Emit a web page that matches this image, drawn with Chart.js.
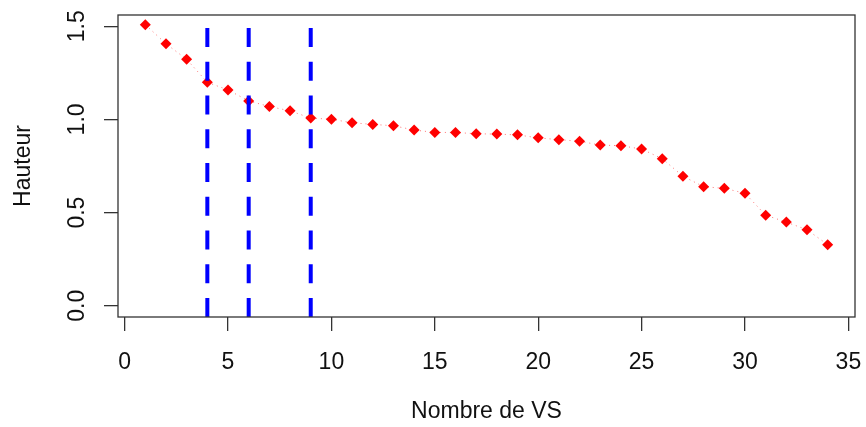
<!DOCTYPE html>
<html lang="fr">
<head>
    <meta charset="UTF-8">
    <title>Hauteur / Nombre de VS</title>
    <script src="https://cdn.jsdelivr.net/npm/chart.js@4.4.1/dist/chart.umd.min.js"></script>
    <style>
        body { margin: 0; background: #fff; }
        #box { width: 866px; height: 427px; }
    </style>
</head>
<body>
<div id="box"><canvas id="hauteur"></canvas></div>

<script>
// valeurs
var nbVS = [1,2,3,4,5,6,7,8,9,10,11,12,13,14,15,16,17,18,19,20,21,22,23,24,25,26,27,28,29,30,31,32,33,34];
var hauteur = [1.508,1.406,1.322,1.199,1.158,1.099,1.069,1.046,1.007,1.001,0.982,0.973,0.966,0.943,0.930,0.930,0.923,0.921,0.917,0.901,0.891,0.883,0.862,0.859,0.841,0.789,0.695,0.639,0.630,0.604,0.486,0.449,0.408,0.328];
var coupures = [4, 6, 9];
var xTicks = [0, 5, 10, 15, 20, 25, 30, 35];
var yTicks = [0, 0.5, 1.0, 1.5];
var xLim = [-0.32, 35.32];
var yLim = [-0.06, 1.56];

var police = { family: "'Liberation Sans', Arial, sans-serif", size: 23 };

var datasets = [{
    label: 'Hauteur',
    data: nbVS.map(function(v, i){ return {x: v, y: hauteur[i]}; }),
    showLine: true,
    borderColor: 'rgba(255,0,0,0.55)',
    borderWidth: 1,
    borderDash: [1, 4],
    pointStyle: 'rectRot',
    pointRadius: 5.5,
    pointBackgroundColor: '#ff0000',
    pointBorderWidth: 0,
    order: 1
}];
// lignes verticales (abline)
coupures.forEach(function(c){
    datasets.push({
        label: 'coupure ' + c,
        data: [{x: c, y: yLim[0]}, {x: c, y: yLim[1]}],
        showLine: true,
        borderColor: '#0000ff',
        borderWidth: 4,
        borderDash: [19, 14.75],
        borderCapStyle: 'butt',
        pointRadius: 0,
        order: 0
    });
});

var cadre = {
    id: 'cadre',
    afterDraw: function(chart){
        var a = chart.chartArea, ctx = chart.ctx;
        ctx.save();
        ctx.strokeStyle = '#333';
        ctx.lineWidth = 1.3;
        ctx.strokeRect(a.left, a.top, a.right - a.left, a.bottom - a.top);
        ctx.restore();
    }
};

function sansMarge(s){
    s.paddingTop = 0; s.paddingBottom = 0;
    s.paddingLeft = 0; s.paddingRight = 0;
}

var ctx = document.getElementById('hauteur').getContext('2d');
var chart = new Chart(ctx, {
    type: 'scatter',
    data: { datasets: datasets },
    options: {
        responsive: true,
        maintainAspectRatio: false,
        animation: false,
        layout: { padding: { top: 15, right: 11, left: 0, bottom: 0 } },
        plugins: { legend: { display: false }, tooltip: { enabled: false } },
        scales: {
            x: {
                type: 'linear',
                min: xLim[0],
                max: xLim[1],
                afterBuildTicks: function(s){ s.ticks = xTicks.map(function(v){ return {value: v}; }); },
                afterFit: function(s){ s.height = 110; sansMarge(s); },
                grid: { drawOnChartArea: false, tickLength: 14, color: '#333', lineWidth: 1.3 },
                border: { display: false },
                ticks: { font: police, color: '#111', padding: 18, maxRotation: 0 },
                title: { display: true, text: 'Nombre de VS', font: police, color: '#111', padding: { top: 0, bottom: 2 } }
            },
            y: {
                min: yLim[0],
                max: yLim[1],
                afterBuildTicks: function(s){ s.ticks = yTicks.map(function(v){ return {value: v}; }); },
                afterFit: function(s){ s.width = 118; sansMarge(s); },
                grid: { drawOnChartArea: false, tickLength: 14, color: '#333', lineWidth: 1.3 },
                border: { display: false },
                ticks: {
                    font: police, color: '#111', padding: 10,
                    minRotation: 90, maxRotation: 90, crossAlign: 'center',
                    callback: function(v){ return v.toFixed(1); }
                },
                title: { display: true, text: 'Hauteur', font: police, color: '#111', padding: { top: 10, bottom: 0 } }
            }
        }
    },
    plugins: [cadre]
});
</script>
</body>
</html>
